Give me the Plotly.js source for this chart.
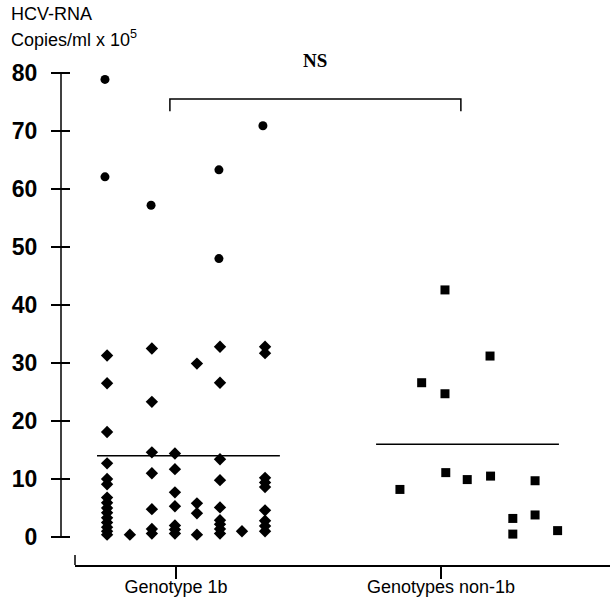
<!DOCTYPE html>
<html>
<head>
<meta charset="utf-8">
<script src="https://cdn.plot.ly/plotly-3.0.1.min.js"></script>
<style>html,body{margin:0;padding:0;background:#fff;}#chart{width:610px;height:603px;}</style>
</head>
<body>
<div id="chart"></div>
<script>
// Categories
const categories = ["Genotype 1b", "Genotypes non-1b"];
const categoryPos = [1, 2];
const yTicks = [0, 10, 20, 30, 40, 50, 60, 70, 80];

// Genotype 1b – diamonds (jittered column x, value)
const g1DiamondX = [
  0.740,0.740,0.740,0.740,0.740,0.740,0.740,0.740,0.740,0.740,0.740,0.740,0.740,0.740,0.740,
  0.826,
  0.909,0.909,0.909,0.909,0.909,0.909,0.909,
  0.996,0.996,0.996,0.996,0.996,0.996,0.996,
  1.079,1.079,1.079,1.079,
  1.166,1.166,1.166,1.166,1.166,1.166,1.166,1.166,1.166,
  1.249,
  1.336,1.336,1.336,1.336,1.336,1.336,1.336,1.336,1.336
];
const g1DiamondY = [
  31.3,26.5,18.1,12.7,10.0,9.1,6.8,5.9,5.0,4.2,3.3,2.5,1.7,1.0,0.4,
  0.4,
  32.5,23.3,14.6,11.0,4.8,1.4,0.6,
  14.4,11.7,7.7,5.3,2.0,1.3,0.6,
  29.9,5.8,4.1,0.4,
  32.8,26.6,13.4,9.8,5.1,2.9,2.2,1.4,0.6,
  1.0,
  32.8,31.7,10.2,9.4,8.6,4.6,2.8,1.9,1.0
];
// Genotype 1b – circles
const g1CircleX = [0.732, 0.732, 0.906, 1.162, 1.162, 1.328];
const g1CircleY = [78.9, 62.1, 57.2, 63.3, 48.0, 70.9];

// Genotypes non-1b – squares
const g2X = [2.015, 2.185, 1.927, 2.015, 2.018, 2.099, 2.187, 2.355, 1.845, 2.271, 2.355, 2.271, 2.440];
const g2Y = [42.6, 31.2, 26.6, 24.7, 11.1, 9.9, 10.5, 9.7, 8.2, 3.2, 3.8, 0.5, 1.1];

// Medians (value, x extent)
const medianValues = [14.0, 16.0];
const medianExtents = [[0.702, 1.392], [1.755, 2.445]];

// Significance bracket
const bracketX = [0.977, 2.075];
const bracketY = [73.4, 75.5];
const bracketLabel = "NS";

const traces = [
  {x: g1DiamondX, y: g1DiamondY, type: 'scatter', mode: 'markers', cliponaxis: false,
   marker: {symbol: 'diamond', size: 9.5, color: '#000'}, hoverinfo: 'y'},
  {x: g1CircleX, y: g1CircleY, type: 'scatter', mode: 'markers', cliponaxis: false,
   marker: {symbol: 'circle', size: 9, color: '#000'}, hoverinfo: 'y'},
  {x: g2X, y: g2Y, type: 'scatter', mode: 'markers', cliponaxis: false,
   marker: {symbol: 'square', size: 9, color: '#000'}, hoverinfo: 'y'},
  {x: medianExtents[0], y: [medianValues[0], medianValues[0]], type: 'scatter', mode: 'lines',
   line: {color: '#000', width: 1.5}, hoverinfo: 'skip'},
  {x: medianExtents[1], y: [medianValues[1], medianValues[1]], type: 'scatter', mode: 'lines',
   line: {color: '#000', width: 1.5}, hoverinfo: 'skip'},
  {x: [bracketX[0], bracketX[0], bracketX[1], bracketX[1]],
   y: [bracketY[0], bracketY[1], bracketY[1], bracketY[0]],
   type: 'scatter', mode: 'lines', cliponaxis: false,
   line: {color: '#000', width: 1.5}, hoverinfo: 'skip'}
];

const W = 549, H = 515;
const layout = {
  width: 610, height: 603,
  margin: {l: 61, r: 0, t: 50, b: 38},
  paper_bgcolor: '#fff', plot_bgcolor: 'rgba(0,0,0,0)',
  showlegend: false,
  font: {family: 'Liberation Sans, Arial, sans-serif', color: '#000'},
  xaxis: {
    domain: [14 / W, 1], range: [0.6189, 2.6377],
    anchor: 'free', position: 0,
    showline: true, linecolor: '#000', linewidth: 1.5,
    showgrid: false, zeroline: false,
    tickmode: 'array', tickvals: categoryPos, ticktext: categories,
    ticks: 'outside', ticklen: 12, tickwidth: 1.5, tickcolor: '#000',
    ticklabelstandoff: -7,
    tickfont: {size: 18, color: '#000', family: 'Liberation Sans, Arial, sans-serif'}
  },
  yaxis: {
    domain: [28 / H, 492 / H], range: [0, 80],
    anchor: 'free', position: 9 / W,
    showline: false,
    showgrid: false, zeroline: false,
    tickmode: 'array', tickvals: yTicks,
    ticks: 'outside', ticklen: 19, tickwidth: 1.5, tickcolor: '#000',
    ticklabelstandoff: 9,
    tickfont: {size: 23, weight: 700, color: '#000', family: 'Liberation Sans, Arial, sans-serif'}
  },
  shapes: [
    // vertical axis line spanning 0..80
    {type: 'line', xref: 'paper', yref: 'y', x0: 0, x1: 0, y0: 0, y1: 80,
     line: {color: '#000', width: 1.5}},
    // small upturn at the left end of the horizontal axis
    {type: 'line', xref: 'paper', yref: 'paper', x0: 14 / W, x1: 14 / W, y0: 0, y1: 10 / H,
     line: {color: '#000', width: 1.5}}
  ],
  annotations: [
    {text: bracketLabel, xref: 'x', yref: 'paper', x: 1.525, y: (565 - 61) / H, showarrow: false,
     xanchor: 'center', yanchor: 'middle',
     font: {family: 'Liberation Serif, Times New Roman, serif', size: 19, weight: 700, color: '#000'}},
    {text: 'HCV-RNA', xref: 'paper', yref: 'paper', x: -52 / W, y: (565 - 14) / H,
     showarrow: false, xanchor: 'left', yanchor: 'middle',
     font: {size: 18, color: '#000'}},
    {text: 'Copies/ml x 10<sup>5</sup>', xref: 'paper', yref: 'paper', x: -52 / W, y: (565 - 38) / H,
     showarrow: false, xanchor: 'left', yanchor: 'middle',
     font: {size: 18, color: '#000'}}
  ]
};

Plotly.newPlot('chart', traces, layout, {displayModeBar: false, staticPlot: true});
</script>
</body>
</html>
